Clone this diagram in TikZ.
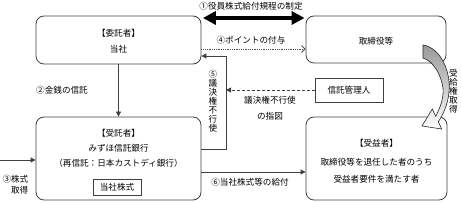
\documentclass[tikz,border=0pt]{standalone}
\usepackage{fontspec}
\setmainfont{Noto Sans CJK JP}
\usetikzlibrary{arrows.meta,calc}
\begin{document}
\begin{tikzpicture}[x=1pt,y=-1pt,
  font=\fontsize{8.6}{9}\selectfont,
  box/.style={draw=black!75, line width=0.8pt, rounded corners=8pt, inner sep=0pt},
  sbox/.style={draw=black!75, line width=0.8pt, inner sep=0pt},
  txt/.style={inner sep=0pt, text=black},
  vtxt/.style={txt, align=center, text width=10pt},
  ln/.style={draw=black!75, line width=0.8pt},
  tri/.style={-{Triangle[length=5pt,width=5pt]}}
]
\useasboundingbox (0,0) rectangle (461,203);

% boxes
\node[box, minimum width=165pt, minimum height=48pt] (itaku) at (118.5,40) {};
\node[box, minimum width=140pt, minimum height=47pt] (tori) at (376,39.5) {};
\node[box, minimum width=165pt, minimum height=83pt] (jutaku) at (118.5,158.5) {};
\node[box, minimum width=141pt, minimum height=83pt] (jueki) at (376.5,158.5) {};
\node[sbox, minimum width=68pt, minimum height=24pt] (kanri) at (349,90) {};
\node[sbox, minimum width=48pt, minimum height=16pt] (kabu) at (117,187) {};

% box texts
\node[txt] (t1a) at (118.5,33) {【委託者】};
\node[txt] (t1b) at (118.5,49) {当社};
\node[txt] (t2) at (376,41) {取締役等};
\node[txt] (t3a) at (118.5,133) {【受託者】};
\node[txt] (t3b) at (118.5,148) {みずほ信託銀行};
\node[txt] (t3c) at (118.5,163) {（再信託：日本カストディ銀行）};
\node[txt] (t3d) at (kabu) {当社株式};
\node[txt] (t4a) at (376.5,143) {【受益者】};
\node[txt] (t4b) at (376.5,162) {取締役等を退任した者のうち};
\node[txt] (t4c) at (376.5,179) {受益者要件を満たす者};
\node[txt] (t5) at (kanri) {信託管理人};

% coordinates
\coordinate (k1) at (0,18);
\coordinate (k4) at (0,49);
\coordinate (k5a) at (226,149);
\coordinate (k5b) at (226,56);
\coordinate (k6) at (0,172);
\coordinate (s3) at (0,160);

% (1) double arrow
\draw[line width=4pt, {Triangle[length=13pt,width=13pt]}-{Triangle[length=13pt,width=13pt]}, shorten <=1.5pt, shorten >=1pt]
  (itaku.east |- k1) -- (tori.west |- k1);
\node[txt] (l1) at (251,6) {①役員株式給付規程の制定};

% (4) dotted
\draw[draw=black!70, line width=0.8pt, densely dotted, -{Straight Barb[length=3.5pt,width=7pt]}]
  (itaku.east |- k4) -- (tori.west |- k4);
\node[txt] (l4) at (251,40) {④ポイントの付与};

% (2)
\draw[ln, tri] (itaku.south) -- (jutaku.north);
\node[txt, anchor=west] (l2) at (36,90) {②金銭の信託};

% (5)
\draw[ln, tri] (jutaku.east |- k5a) -- (k5a) -- (k5b) -- (itaku.east |- k5b);
\node[vtxt] (l5) at (213,101.5) {⑤\\議\\決\\権\\不\\行\\使};

% dashed instruction
\draw[ln, dash pattern=on 3pt off 2pt, tri] (kanri.west) -- (kanri.west -| k5a);
\node[txt] (l5b) at (270,100) {議決権不行使};
\node[txt] (l5c) at (270,116) {の指図};

% (6)
\draw[ln, tri] (jutaku.east |- k6) -- (jueki.west |- k6);
\node[txt] (l6) at (250,182) {⑥当社株式等の給付};

% (3)
\draw[ln, tri] (s3) -- (jutaku.west |- s3);
\node[txt, anchor=east] (l3a) at (28.5,179) {③株式};
\node[txt, anchor=east] (l3b) at (28.5,190) {取得};

% curved arrow
\shade[top color=black!40, bottom color=white, draw=black!85, line width=0.6pt]
  (423,45) .. controls (441,48) and (451,72) .. (449,92)
  .. controls (448,104) and (443,115) .. (438.3,121.7)
  -- (441.7,129) -- (422,126) -- (432.3,109) -- (435.7,116.3)
  .. controls (440,108) and (444,98) .. (443,88)
  .. controls (441,74) and (433,61) .. (423,58) -- cycle;
\node[vtxt] (l7) at (453.5,91) {受\\給\\権\\取\\得};
\end{tikzpicture}
\end{document}
